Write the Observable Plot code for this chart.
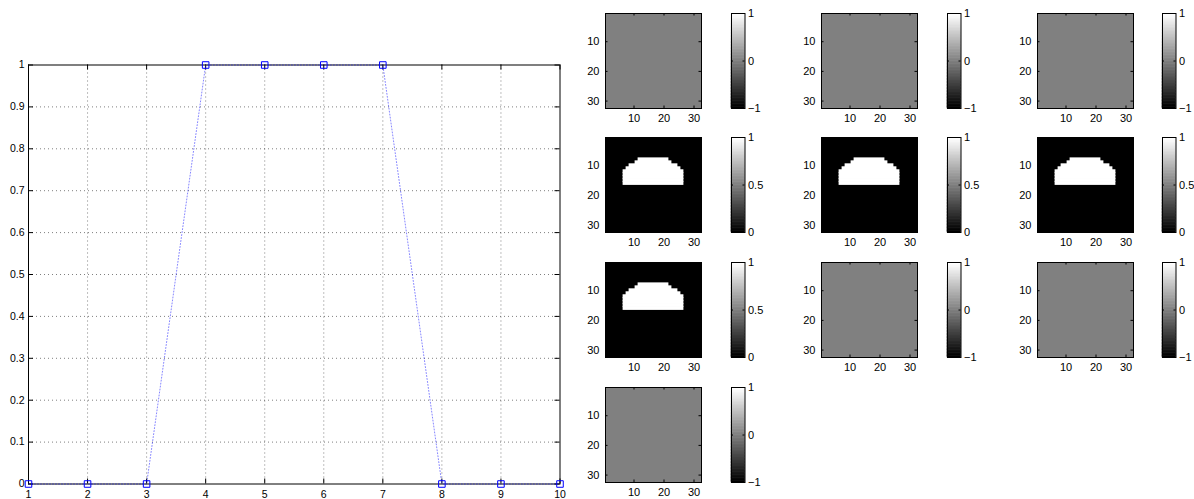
<!DOCTYPE html>
<html><head><meta charset="utf-8">
<script src="https://cdn.jsdelivr.net/npm/d3@7"></script>
<script src="https://cdn.jsdelivr.net/npm/@observablehq/plot@0.6"></script>
<style>
body{margin:0;background:#fff;}
#root{position:relative;width:1194px;height:499px;overflow:hidden;background:#fff;}
#root svg{position:absolute;overflow:visible;}
</style></head><body>
<div id="root"></div>
<script>
// ---- left line chart data ----
const lineX = [1, 2, 3, 4, 5, 6, 7, 8, 9, 10];
const lineY = [0, 0, 0, 1, 1, 1, 1, 0, 0, 0];
const xTicks = [1, 2, 3, 4, 5, 6, 7, 8, 9, 10];
const yTicks = [0, 0.1, 0.2, 0.3, 0.4, 0.5, 0.6, 0.7, 0.8, 0.9, 1];
const yTickLabels = ["0", "0.1", "0.2", "0.3", "0.4", "0.5", "0.6", "0.7", "0.8", "0.9", "1"];

// ---- image panels data (10 panels, 3 per row) ----
const panelKinds = ["zero", "zero", "zero", "shape", "shape", "shape", "shape", "zero", "zero", "zero"];
const imageSize = 32;
const imageTicks = [10, 20, 30];
const shapeRows = [8, 9, 10, 11, 12, 13, 14, 15, 16];
const shapeColStart = [12, 11, 9, 8, 7, 7, 7, 7, 7];
const shapeColEnd = [21, 22, 24, 25, 26, 26, 26, 26, 26];
const backgroundValue = 0;
const shapeValue = 1;
const zeroRange = [-1, 1];
const zeroTicks = [-1, 0, 1];
const shapeRange = [0, 1];
const shapeTicks = [0, 0.5, 1];
const colormapLevels = 64;

const FONT = "'Liberation Sans', Arial, Helvetica, sans-serif";
const root = document.getElementById("root");
function place(svg, left, top) {
  svg.style.left = left + "px";
  svg.style.top = top + "px";
  root.appendChild(svg);
}
const fmt = d => d < 0 ? "\u2212" + (-d) : String(d);

// inward tick helper (lengths given in pixels, converted to data units)
function inwardTicks(xt, yt, xDom, yDom, pw, ph, len) {
  const lx = len * (xDom[1] - xDom[0]) / pw;
  const ly = len * (yDom[1] - yDom[0]) / ph;
  const s = {stroke: "#000", strokeWidth: 1};
  return [
    Plot.ruleX(xt, {x: d => d, y1: () => yDom[0], y2: () => yDom[0] + ly, ...s}),
    Plot.ruleX(xt, {x: d => d, y1: () => yDom[1], y2: () => yDom[1] - ly, ...s}),
    Plot.ruleY(yt, {y: d => d, x1: () => xDom[0], x2: () => xDom[0] + lx, ...s}),
    Plot.ruleY(yt, {y: d => d, x1: () => xDom[1], x2: () => xDom[1] - lx, ...s})
  ];
}

// ---- left chart ----
{
  const W = 570, H = 499, mL = 28, mR = 10.5, mT = 64.5, mB = 15.5;
  const pw = W - mL - mR, ph = H - mT - mB;
  const xDom = [1, 10], yDom = [0, 1];
  const pts = lineX.map((x, i) => ({x, y: lineY[i]}));
  const grid = {stroke: "#000", strokeOpacity: 0.5, strokeWidth: 1, strokeDasharray: "1,3"};
  const svg = Plot.plot({
    width: W, height: H, marginLeft: mL, marginRight: mR, marginTop: mT, marginBottom: mB,
    style: {fontFamily: FONT, fontSize: "10.5px", color: "#000", background: "transparent"},
    x: {domain: xDom, ticks: xTicks, tickSize: 0, tickPadding: 7, tickFormat: d => String(d), label: null},
    y: {domain: yDom, ticks: yTicks, tickSize: 0, tickPadding: 4, tickFormat: d => yTickLabels[yTicks.indexOf(d)], label: null},
    marks: [
      Plot.ruleX(xTicks.slice(1, -1), {x: d => d, ...grid}),
      Plot.ruleY(yTicks.slice(1, -1), {y: d => d, ...grid}),
      ...inwardTicks(xTicks, yTicks, xDom, yDom, pw, ph, 5),
      Plot.frame({stroke: "#000", strokeWidth: 1}),
      Plot.line(pts, {x: "x", y: "y", stroke: "#0000ff", strokeWidth: 0.8, strokeDasharray: "1,2", strokeOpacity: 0.6}),
      Plot.dot(pts, {x: "x", y: "y", symbol: "square", r: 3.7, stroke: "#0000ff", fill: "none", strokeWidth: 1})
    ]
  });
  place(svg, 0, 0);
}

// ---- image panels with colorbars ----
const imgLeft0 = 605, colStep = 216, imgTop0 = 12.5, rowStep = 124.9;
const imgW = 96, imgH = 95;
const cbLeft0 = 731, cbW = 13.5;

panelKinds.forEach((kind, k) => {
  const col = k % 3, row = Math.floor(k / 3);
  const range = kind === "zero" ? zeroRange : shapeRange;
  const cticks = kind === "zero" ? zeroTicks : shapeTicks;
  const imgLeft = imgLeft0 + col * colStep;
  const imgTop = imgTop0 + row * rowStep;
  const dom = [0.5, imageSize + 0.5];

  // image
  {
    const mL = 30, mR = 4, mT = 4, mB = 22;
    const marks = [
      Plot.rect([backgroundValue], {x1: () => dom[0], x2: () => dom[1], y1: () => dom[0], y2: () => dom[1], fill: d => d})
    ];
    if (kind === "shape") {
      marks.push(Plot.rect(shapeRows, {
        x1: (d, i) => shapeColStart[i] - 0.5, x2: (d, i) => shapeColEnd[i] + 0.5,
        y1: d => d - 0.5, y2: d => d + 0.5, fill: () => shapeValue, inset: -0.4
      }));
    }
    marks.push(...inwardTicks(imageTicks, imageTicks, dom, dom, imgW, imgH, 2.5));
    marks.push(Plot.frame({stroke: "#000", strokeWidth: 1}));
    const svg = Plot.plot({
      width: mL + imgW + mR, height: mT + imgH + mB,
      marginLeft: mL, marginRight: mR, marginTop: mT, marginBottom: mB,
      style: {fontFamily: FONT, fontSize: "11px", color: "#000", background: "transparent"},
      x: {domain: dom, ticks: imageTicks, tickSize: 0, tickPadding: 6, label: null},
      y: {domain: dom, reverse: true, ticks: imageTicks, tickSize: 0, tickPadding: 6, label: null},
      color: {type: "linear", domain: range, range: ["#000000", "#ffffff"]},
      marks
    });
    place(svg, imgLeft - mL, imgTop - mT);
  }

  // colorbar
  {
    const mL = 2, mR = 28, mT = 8, mB = 8;
    const levels = d3.range(colormapLevels);
    const step = (range[1] - range[0]) / colormapLevels;
    const svg = Plot.plot({
      width: mL + cbW + mR, height: mT + imgH + mB,
      marginLeft: mL, marginRight: mR, marginTop: mT, marginBottom: mB,
      style: {fontFamily: FONT, fontSize: "11px", color: "#000", background: "transparent"},
      x: {domain: [0, 1], axis: null},
      y: {domain: range, axis: "right", ticks: cticks, tickSize: 0, tickPadding: 3, tickFormat: fmt, label: null},
      color: {type: "linear", domain: [0, colormapLevels - 1], range: ["#000000", "#ffffff"]},
      marks: [
        Plot.rect(levels, {x1: () => 0, x2: () => 1, y1: i => range[0] + i * step, y2: i => range[0] + (i + 1) * step, fill: i => i, inset: -0.3}),
        ...inwardTicks([], cticks, [0, 1], range, cbW, imgH, 2),
        Plot.frame({stroke: "#000", strokeWidth: 1})
      ]
    });
    place(svg, cbLeft0 + col * 215.5 - mL, imgTop - mT);
  }
});
</script>
</body></html>
